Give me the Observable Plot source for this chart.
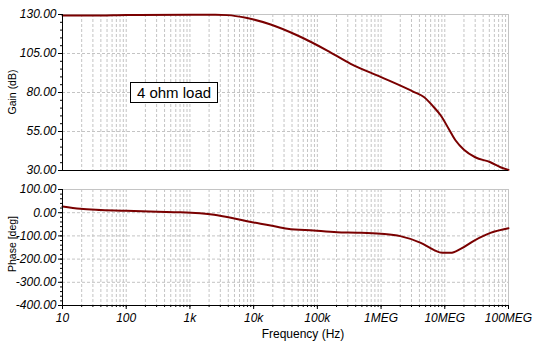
<!DOCTYPE html>
<html><head><meta charset="utf-8">
<script src="https://cdn.jsdelivr.net/npm/d3@7"></script>
<script src="https://cdn.jsdelivr.net/npm/@observablehq/plot@0.6"></script>
<style>
body{margin:0;background:#fff;}
#chart{position:relative;width:546px;height:351px;font-family:"Liberation Sans",Arial,sans-serif;background:#fff;overflow:hidden;}
#chart svg{position:absolute;left:0;}
.lbl{position:absolute;color:#000;white-space:nowrap;line-height:1;}
.rot{transform:translate(-50%,-50%) rotate(-90deg);}
</style></head><body><div id="chart"></div>
<script>
// Gain curve (frequency in Hz, gain in dB)
const gainFreq = [10, 40, 100, 1000, 2500, 3900, 7900, 18500, 48000, 143000, 333000, 1e6, 3.3e6, 4.7e6, 6.7e6, 8.6e6, 1.15e7, 1.48e7, 2e7, 3e7, 5.2e7, 7.5e7, 1e8];
const gainDb   = [129.3, 129.4, 129.7, 129.8, 129.8, 129.6, 127.7, 123.6, 116.7, 106.9, 98.4, 89.9, 80.3, 77.1, 70.7, 65.4, 56.8, 49.2, 43.3, 38.5, 35.3, 32.1, 30.4];
// Phase curve (frequency in Hz, phase in degrees)
const phaseFreq = [10, 19, 40, 100, 310, 710, 2400, 4400, 7900, 18500, 34000, 87000, 204000, 420000, 1e6, 2e6, 4.2e6, 6.7e6, 9.1e6, 1.23e7, 1.77e7, 2.9e7, 5.2e7, 1e8];
const phaseDeg  = [27, 17, 12, 8, 4, 2, -9, -22, -37, -55, -69, -77, -84, -86, -91, -101, -130, -160, -173, -173, -156, -120, -87, -67];
// Axis ticks
const xTickValues = [10, 100, 1e3, 1e4, 1e5, 1e6, 1e7, 1e8];
const xTickLabels = ["10", "100", "1k", "10k", "100k", "1MEG", "10MEG", "100MEG"];
const gainTicks = [30, 55, 80, 105, 130];
const phaseTicks = [-400, -300, -200, -100, 0, 100];
const annotation = "4 ohm load";

const gainData = gainFreq.map((f, i) => ({f, v: gainDb[i]}));
const phaseData = phaseFreq.map((f, i) => ({f, v: phaseDeg[i]}));
const xMinor = [];
for (let e = 1; e < 8; e++) for (let m = 1; m <= 9; m++) xMinor.push(m * 10 ** e);
xMinor.push(1e8);
const gainMinor = d3.range(30, 130.1, 5);
const phaseMinor = d3.range(-400, 100.1, 20);

const gridColor = "#c4c4c4";
const lineColor = "#7a0000";
const W = 546;
const xScale = {type: "log", domain: [10, 1e8]};
const fmt = d => d.toFixed(2);

function panel(data, yDomain, yTicks, yMinor, height, mt, mb, withX) {
  const marks = [
    Plot.ruleX(xMinor, {stroke: gridColor, strokeDasharray: "3,2"}),
    Plot.ruleY(yTicks, {stroke: gridColor, strokeDasharray: "3,2"}),
    Plot.ruleY([yDomain[1]], {stroke: gridColor}),
    Plot.ruleX([1e8], {stroke: gridColor}),
    Plot.line(data, {x: "f", y: "v", stroke: lineColor, strokeWidth: 2, curve: "monotone-x"}),
    Plot.ruleX([10], {stroke: "#000"}),
    Plot.ruleY([yDomain[0]], {stroke: "#000"}),
    Plot.axisY(yTicks, {tickSize: 4, tickPadding: 2, tickFormat: fmt, label: null, fontSize: 12, fontStyle: "italic"}),
    Plot.axisY(yMinor, {tickSize: 2, tickFormat: () => "", label: null})
  ];
  if (withX) {
    marks.push(Plot.axisX(xTickValues, {tickSize: 4, tickPadding: 4, tickFormat: d => xTickLabels[xTickValues.indexOf(d)], label: null, fontSize: 12, fontStyle: "italic"}));
    marks.push(Plot.axisX(xMinor, {tickSize: 2, tickFormat: () => "", label: null}));
  }
  return Plot.plot({
    width: W, height,
    marginLeft: 62, marginRight: 38, marginTop: mt, marginBottom: mb,
    x: {...xScale, axis: withX ? undefined : null},
    y: {domain: yDomain},
    style: {fontFamily: '"Liberation Sans", Arial, sans-serif', background: "transparent", color: "#000"},
    marks
  });
}

const chart = document.getElementById("chart");
const gainPlot = panel(gainData, [30, 130], gainTicks, gainMinor, 180, 14, 10, false);
gainPlot.style.top = "0px";
const phasePlot = panel(phaseData, [-400, 100], phaseTicks, phaseMinor, 171, 9, 46, true);
phasePlot.style.top = "180px";
chart.appendChild(gainPlot);
chart.appendChild(phasePlot);

function label(text, x, y, size, rot) {
  const d = document.createElement("div");
  d.className = "lbl" + (rot ? " rot" : "");
  d.textContent = text;
  d.style.fontSize = size + "px";
  d.style.left = x + "px";
  d.style.top = y + "px";
  if (!rot) d.style.transform = "translate(-50%,-50%)";
  chart.appendChild(d);
  return d;
}
label("Gain (dB)", 12, 92, 10.5, true);
label("Phase [deg]", 12, 244, 10.5, true);
label("Frequency (Hz)", 303, 334, 12, false);
const box = document.createElement("div");
box.className = "lbl";
box.textContent = annotation;
Object.assign(box.style, {left: "130px", top: "82px", width: "86px", height: "19px", border: "1px solid #000", background: "#fff", fontSize: "15px", textAlign: "center", lineHeight: "19px"});
chart.appendChild(box);
</script>
</body></html>
